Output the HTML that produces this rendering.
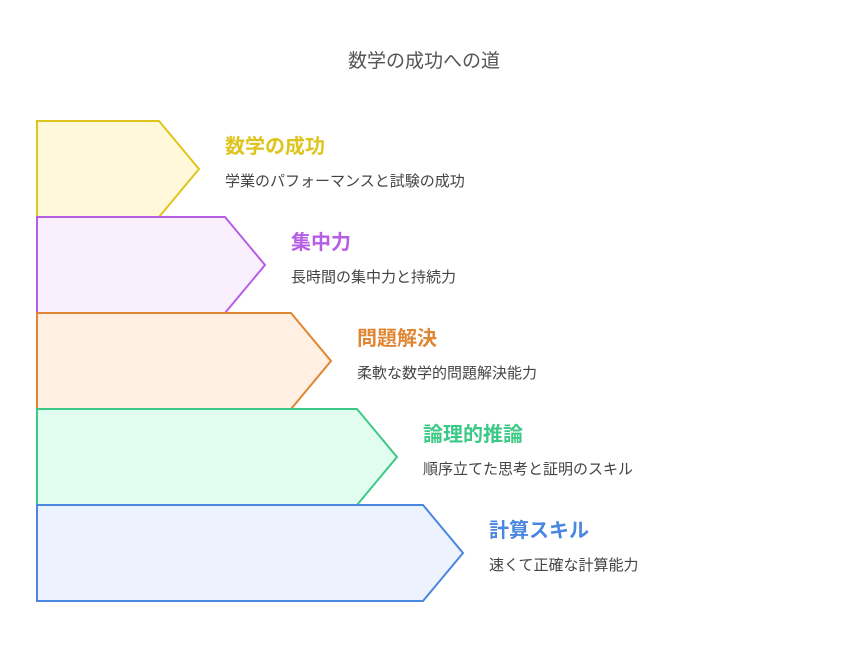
<!DOCTYPE html>
<html><head><meta charset="utf-8"><style>
html,body{margin:0;padding:0;background:#fff;width:848px;height:662px;overflow:hidden;}
body{position:relative;font-family:"Liberation Sans","Noto Sans CJK JP",sans-serif;}
.t{position:absolute;white-space:nowrap;}
.h{font-size:20px;font-weight:bold;}
.d{font-size:15px;color:#444;}
</style></head><body>
<svg width="848" height="662" style="position:absolute;left:0;top:0">
<polygon points="37,121 159,121 199,169 159,217 37,217" fill="#fff9da" stroke="#e0c41e" stroke-width="2"/>
<polygon points="37,217 225,217 265,265 225,313 37,313" fill="#faeffd" stroke="#b65de6" stroke-width="2"/>
<polygon points="37,313 291,313 331,361 291,409 37,409" fill="#fff0e3" stroke="#e08632" stroke-width="2"/>
<polygon points="37,409 357,409 397,457 357,505 37,505" fill="#e0fdef" stroke="#3cc985" stroke-width="2"/>
<polygon points="37,505 423,505 463,553 423,601 37,601" fill="#ecf2fe" stroke="#4b86e0" stroke-width="2"/>
</svg>
<div class="t" style="left:0;width:848px;text-align:center;top:46px;font-size:19px;color:#555">数学の成功への道</div>
<div class="t h" style="left:225px;top:130px;color:#e0c41e">数学の成功</div>
<div class="t d" style="left:225px;top:170px">学業のパフォーマンスと試験の成功</div>
<div class="t h" style="left:291px;top:226px;color:#b65de6">集中力</div>
<div class="t d" style="left:291px;top:266px">長時間の集中力と持続力</div>
<div class="t h" style="left:357px;top:322px;color:#e08632">問題解決</div>
<div class="t d" style="left:357px;top:362px">柔軟な数学的問題解決能力</div>
<div class="t h" style="left:423px;top:418px;color:#3cc985">論理的推論</div>
<div class="t d" style="left:423px;top:458px">順序立てた思考と証明のスキル</div>
<div class="t h" style="left:489px;top:514px;color:#4b86e0">計算スキル</div>
<div class="t d" style="left:489px;top:554px">速くて正確な計算能力</div>
</body></html>
